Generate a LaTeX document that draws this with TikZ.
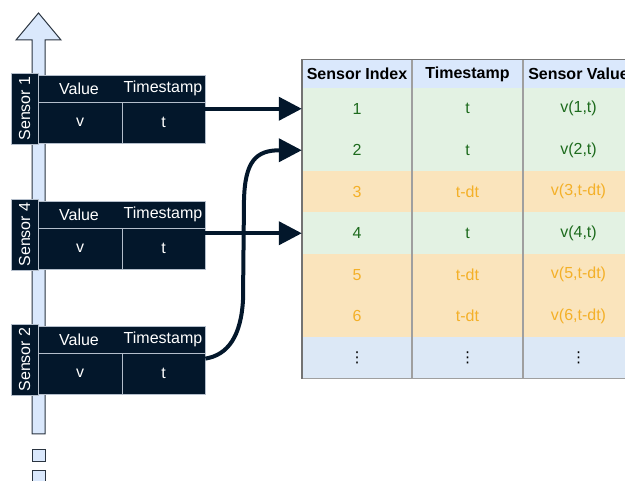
\documentclass[tikz,border=0pt]{standalone}
\usepackage{fontspec}
\setmainfont{Liberation Sans}
\newfontfamily\dejavu{DejaVu Sans}
\usetikzlibrary{arrows.meta}
\definecolor{navy}{HTML}{03172B}
\definecolor{axisfill}{HTML}{DAE8FC}
\definecolor{axisline}{HTML}{2A3440}
\definecolor{hdrfill}{HTML}{DAE8FC}
\definecolor{grnfill}{HTML}{E3F2E3}
\definecolor{grntext}{HTML}{1D6B1D}
\definecolor{orgfill}{HTML}{FAE4BC}
\definecolor{orgtext}{HTML}{F4B028}
\definecolor{dotfill}{HTML}{DCE8F6}
\definecolor{blkline}{HTML}{B4BECB}
\tikzset{
  axisst/.style={fill=axisfill, draw=axisline, line width=1pt},
  navybox/.style={fill=navy, draw=blkline, line width=0.8pt, inner sep=0pt, text=white},
  txt/.style={inner sep=0pt, text=white},
  cell/.style={inner sep=0pt},
  conn/.style={draw=navy, line width=4pt, -{Triangle[length=23pt,width=23pt]}},
  tabline/.style={draw=gray!75, line width=1.4pt},
}
% #1 name, #2 top y, #3 label number
\newcommand\sensorblock[3]{%
  \node[navybox, rotate=90, minimum width=71pt, minimum height=27pt] (#1lab) at (24.5,#2+35.5) {Sensor #3};
  \node[navybox, minimum width=167pt, minimum height=27pt] (#1hd) at (121.5,#2+15.5) {};
  \node[txt] (#1hv) at (79,#2+15.5) {Value};
  \node[txt] (#1ht) at (163,#2+15.5) {Timestamp};
  \node[navybox, minimum width=84pt, minimum height=41pt] (#1v) at (80,#2+49.5) {v};
  \node[navybox, minimum width=83pt, minimum height=41pt] (#1t) at (163.5,#2+49.5) {t};
}
% #1 id, #2 centre y, #3 height, #4 fill, #5 text colour, #6 #7 #8 texts
\newcommand\tabrow[8]{%
  \node[cell, fill=#4, text=#5, minimum width=110pt, minimum height=#3pt] (#1c1) at (357,#2) {#6};
  \node[cell, fill=#4, text=#5, minimum width=111pt, minimum height=#3pt] (#1c2) at (467.5,#2) {#7};
  \node[cell, fill=#4, text=#5, minimum width=111pt, minimum height=#3pt] (#1c3) at (578.5,#2) {#8};
}
\begin{document}
\begin{tikzpicture}[x=1pt,y=-1pt,font=\fontsize{16}{19}\selectfont]
\useasboundingbox (0,0) rectangle (625,481);
\clip (0,0) rectangle (625,481);
% time axis
\draw[axisst] (32,434) -- (32,40) -- (16,40) -- (38.5,13) -- (61,40) -- (45,40) -- (45,434) -- cycle;
\draw[axisst] (32,450) rectangle (45,462);
\draw[axisst] (32,471) rectangle (45,483);
% sensor blocks
\sensorblock{s1}{73}{1}
\sensorblock{s4}{199}{4}
\sensorblock{s2}{324}{2}
% table
\tabrow{h}{74}{28}{hdrfill}{black}{\textbf{Sensor Index}}{\textbf{Timestamp}}{\textbf{Sensor Value}}
\tabrow{r1}{108.75}{41.5}{grnfill}{grntext}{1}{t}{v(1,t)}
\tabrow{r2}{150.25}{41.5}{grnfill}{grntext}{2}{t}{v(2,t)}
\tabrow{r3}{191.75}{41.5}{orgfill}{orgtext}{3}{t-dt}{v(3,t-dt)}
\tabrow{r4}{233.25}{41.5}{grnfill}{grntext}{4}{t}{v(4,t)}
\tabrow{r5}{274.75}{41.5}{orgfill}{orgtext}{5}{t-dt}{v(5,t-dt)}
\tabrow{r6}{316.25}{41.5}{orgfill}{orgtext}{6}{t-dt}{v(6,t-dt)}
\tabrow{rd}{357.75}{41.5}{dotfill}{black}{{\dejavu\fontsize{15}{18}\selectfont ⋮}}{{\dejavu\fontsize{15}{18}\selectfont ⋮}}{{\dejavu\fontsize{15}{18}\selectfont ⋮}}
\draw[tabline] (hc2.north west) -- (rdc2.south west);
\draw[tabline] (hc3.north west) -- (rdc3.south west);
\draw[tabline] (rdc1.south west) -- (rdc3.south east);
\draw[draw=gray!90!black, line width=1.4pt] (rdc1.south west) -- (hc1.north west) -- (hc3.north east);
% connectors
\draw[conn] (s1t.north east |- r1c1.west) -- (r1c1.west);
\draw[conn] (s4t.north east |- r4c1.west) -- (r4c1.west);
\draw[conn] ([yshift=-6pt]s2t.north east) .. controls (228,355) and (241,336) .. (243,300)
  -- (244,200) .. controls (245,161) and (256,150.25) .. (280,150.25) -- (r2c1.west);
\end{tikzpicture}
\end{document}
